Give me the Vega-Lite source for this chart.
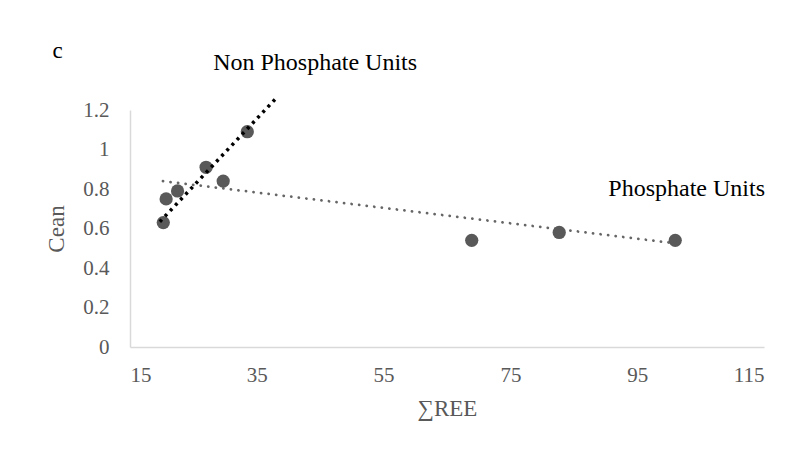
{
  "$schema": "https://vega.github.io/schema/vega-lite/v6.json",
  "width": 634,
  "height": 237,
  "autosize": {"type": "none"},
  "padding": {"left": 130, "top": 110, "right": 36, "bottom": 107},
  "background": "white",
  "config": {
    "view": {"stroke": null},
    "font": "Liberation Serif, serif",
    "text": {"font": "Liberation Serif, serif"},
    "axis": {"grid": false, "ticks": false, "domainColor": "#d9d9d9", "domainWidth": 1.5, "labelFont": "Liberation Serif, serif", "labelFontSize": 21, "labelColor": "#595959", "titleFont": "Liberation Serif, serif", "titleFontSize": 23, "titleColor": "#595959", "titleFontWeight": "normal"}
  },
  "datasets": {
    "points": [
      {"ree": 20.25, "cean": 0.63},
      {"ree": 20.7, "cean": 0.75},
      {"ree": 22.5, "cean": 0.79},
      {"ree": 27.0, "cean": 0.91},
      {"ree": 29.7, "cean": 0.84},
      {"ree": 33.5, "cean": 1.09},
      {"ree": 68.9, "cean": 0.54},
      {"ree": 82.7, "cean": 0.58},
      {"ree": 101.0, "cean": 0.54}
    ],
    "nonphos": [
      {"ree": 19.7, "cean": 0.634},
      {"ree": 38.0, "cean": 1.258}
    ],
    "phos": [
      {"ree": 20.2, "cean": 0.84},
      {"ree": 101.0, "cean": 0.525}
    ],
    "labels": [
      {"ree": 44.2, "cean": 1.44, "text": "Non Phosphate Units", "size": 24},
      {"ree": 102.8, "cean": 0.80, "text": "Phosphate Units", "size": 24},
      {"ree": 3.6, "cean": 1.50, "text": "c", "size": 23}
    ]
  },
  "encoding": {
    "x": {"field": "ree", "type": "quantitative", "scale": {"domain": [15, 115], "nice": false, "zero": false},
      "axis": {"title": "∑REE", "values": [15, 35, 55, 75, 95, 115], "labelPadding": 17, "titlePadding": 12, "format": "d"}},
    "y": {"field": "cean", "type": "quantitative", "scale": {"domain": [0, 1.2], "nice": false},
      "axis": {"title": "Cean", "values": [0, 0.2, 0.4, 0.6, 0.8, 1, 1.2], "format": "~f", "labelPadding": 21, "titlePadding": 14}}
  },
  "layer": [
    {"data": {"name": "phos"}, "mark": {"type": "line", "color": "#666666", "strokeWidth": 2.75, "strokeDash": [0.1, 7.5], "strokeCap": "round", "clip": false}},
    {"data": {"name": "points"}, "mark": {"type": "point", "filled": true, "shape": "circle", "size": 175, "color": "#595959", "opacity": 1}},
    {"data": {"name": "nonphos"}, "mark": {"type": "line", "color": "#000000", "strokeWidth": 3.5, "strokeDash": [3, 4.5], "clip": false}},
    {"data": {"name": "labels"}, "mark": {"type": "text", "color": "#000000", "font": "Liberation Serif, serif", "baseline": "middle", "align": "center", "clip": false},
      "encoding": {"text": {"field": "text"}, "size": {"field": "size", "type": "quantitative", "scale": null}}}
  ]
}
